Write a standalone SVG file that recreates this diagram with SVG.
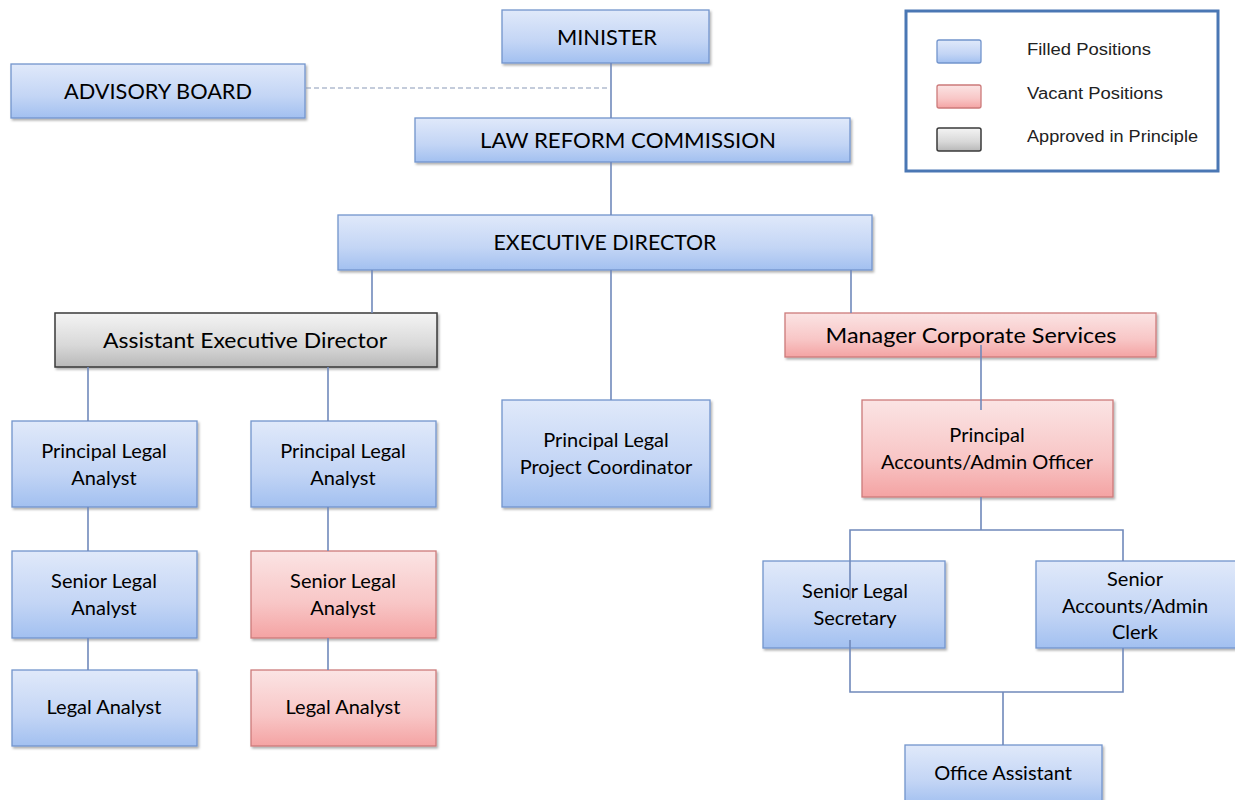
<svg xmlns="http://www.w3.org/2000/svg" width="1235" height="800" viewBox="0 0 1235 800">
<style>
.n text{font-family:Lato,"Open Sans","Liberation Sans",sans-serif;fill:#000;text-anchor:middle}
.t{font-size:20px}
.cap{font-size:21px}
.big{font-size:22px}
.blue{fill:url(#gb);stroke:#7294cc;stroke-width:1.3}
.red{fill:url(#gr);stroke:#cc7a7a;stroke-width:1.3}
.gray{fill:url(#gg);stroke:#3a3a3a;stroke-width:1.5}
.box{filter:url(#sh)}
.c line,.c path{stroke:#7089bb;stroke-width:1.6;fill:none}
.lg text{font-family:"Liberation Sans",Arial,sans-serif;font-size:16px;fill:#222}
</style>
<defs>
<linearGradient id="gb" x1="0" y1="0" x2="0" y2="1"><stop offset="0" stop-color="#e0e9fa"/><stop offset="0.6" stop-color="#c3d5f5"/><stop offset="1" stop-color="#a2c0f0"/></linearGradient>
<linearGradient id="gr" x1="0" y1="0" x2="0" y2="1"><stop offset="0" stop-color="#fbe4e4"/><stop offset="0.6" stop-color="#f8c6c6"/><stop offset="1" stop-color="#f4a3a3"/></linearGradient>
<linearGradient id="gg" x1="0" y1="0" x2="0" y2="1"><stop offset="0" stop-color="#f4f4f4"/><stop offset="0.6" stop-color="#d8d8d8"/><stop offset="1" stop-color="#b8b8b8"/></linearGradient>
<filter id="sh" x="-5%" y="-10%" width="110%" height="130%"><feDropShadow dx="1.5" dy="2" stdDeviation="1.2" flood-color="#000" flood-opacity="0.3"/></filter>
</defs>
<rect width="1235" height="800" fill="#fff"/>

<g id="minister" class="n"><rect class="blue box" x="502" y="10" width="207" height="53"/><text class="cap" x="607" y="45" textLength="100" lengthAdjust="spacingAndGlyphs">MINISTER</text></g>
<g id="advisory-board" class="n"><rect class="blue box" x="11" y="64" width="294" height="54"/><text class="cap" x="158" y="99" textLength="188" lengthAdjust="spacingAndGlyphs">ADVISORY BOARD</text></g>
<g id="law-reform-commission" class="n"><rect class="blue box" x="415" y="118" width="435" height="44"/><text class="cap" x="628" y="148" textLength="296" lengthAdjust="spacingAndGlyphs">LAW REFORM COMMISSION</text></g>
<g id="executive-director" class="n"><rect class="blue box" x="338" y="215" width="534" height="55"/><text class="cap" x="605" y="250" textLength="223" lengthAdjust="spacingAndGlyphs">EXECUTIVE DIRECTOR</text></g>
<g id="assistant-executive-director" class="n"><rect class="gray box" x="55" y="313" width="382" height="54"/><text class="big" x="245" y="348" textLength="284" lengthAdjust="spacingAndGlyphs">Assistant Executive Director</text></g>
<g id="manager-corporate-services" class="n"><rect class="red box" x="785" y="313" width="371" height="44"/><text class="big" x="971" y="343" textLength="291" lengthAdjust="spacingAndGlyphs">Manager Corporate Services</text></g>
<g id="pla1" class="n"><rect class="blue box" x="12" y="421" width="185" height="86"/><text class="t" x="104" y="458">Principal Legal</text><text class="t" x="104" y="485">Analyst</text></g>
<g id="pla2" class="n"><rect class="blue box" x="251" y="421" width="185" height="86"/><text class="t" x="343" y="458">Principal Legal</text><text class="t" x="343" y="485">Analyst</text></g>
<g id="plpc" class="n"><rect class="blue box" x="502" y="400" width="208" height="107"/><text class="t" x="606" y="447">Principal Legal</text><text class="t" x="606" y="474">Project Coordinator</text></g>
<g id="paao" class="n"><rect class="red box" x="862" y="400" width="251" height="97"/><text class="t" x="987" y="442">Principal</text><text class="t" x="987" y="469">Accounts/Admin Officer</text></g>
<g id="sla1" class="n"><rect class="blue box" x="12" y="551" width="185" height="87"/><text class="t" x="104" y="588">Senior Legal</text><text class="t" x="104" y="615">Analyst</text></g>
<g id="sla2" class="n"><rect class="red box" x="251" y="551" width="185" height="87"/><text class="t" x="343" y="588">Senior Legal</text><text class="t" x="343" y="615">Analyst</text></g>
<g id="la1" class="n"><rect class="blue box" x="12" y="670" width="185" height="76"/><text class="t" x="104" y="714">Legal Analyst</text></g>
<g id="la2" class="n"><rect class="red box" x="251" y="670" width="185" height="76"/><text class="t" x="343" y="714">Legal Analyst</text></g>
<g id="sls" class="n"><rect class="blue box" x="763" y="561" width="182" height="87"/><text class="t" x="855" y="598">Senior Legal</text><text class="t" x="855" y="625">Secretary</text></g>
<g id="saac" class="n"><rect class="blue box" x="1036" y="561" width="205" height="87"/><text class="t" x="1135" y="586">Senior</text><text class="t" x="1135" y="613">Accounts/Admin</text><text class="t" x="1135" y="639">Clerk</text></g>
<g id="office-assistant" class="n"><rect class="blue box" x="905" y="745" width="197" height="60"/><text class="t" x="1003" y="780">Office Assistant</text></g>

<g id="connectors" class="c">
<line x1="611" y1="63" x2="611" y2="118"/>
<line x1="611" y1="162" x2="611" y2="215"/>
<line x1="306" y1="88" x2="609" y2="88" stroke-dasharray="5,3" style="stroke:#8a9ab8;stroke-width:1.2"/>
<line x1="372" y1="270" x2="372" y2="313"/>
<line x1="611" y1="270" x2="611" y2="400"/>
<line x1="851" y1="270" x2="851" y2="313"/>
<line x1="88" y1="367" x2="88" y2="421"/>
<line x1="328" y1="367" x2="328" y2="421"/>
<line x1="88" y1="507" x2="88" y2="551"/>
<line x1="328" y1="507" x2="328" y2="551"/>
<line x1="88" y1="638" x2="88" y2="670"/>
<line x1="328" y1="638" x2="328" y2="670"/>
<line x1="981" y1="345" x2="981" y2="410"/>
<path d="M981 497V530M850 600V530H1123V561"/>
<path d="M850 640V692H1123V648M1003 692V745"/>
</g>

<g id="legend" class="lg">
<rect x="906" y="11" width="312" height="160" fill="#fff" stroke="#4a77b4" stroke-width="3"/>
<rect class="blue" x="937" y="40" width="44" height="23" rx="2" style="stroke:#7294cc"/>
<rect class="red" x="937" y="85" width="44" height="23" rx="2"/>
<rect class="gray" x="937" y="128" width="44" height="23" rx="2"/>
<text x="1027" y="55" textLength="124" lengthAdjust="spacingAndGlyphs">Filled Positions</text>
<text x="1027" y="99" textLength="136" lengthAdjust="spacingAndGlyphs">Vacant Positions</text>
<text x="1027" y="142" textLength="171" lengthAdjust="spacingAndGlyphs">Approved in Principle</text>
</g>
</svg>
